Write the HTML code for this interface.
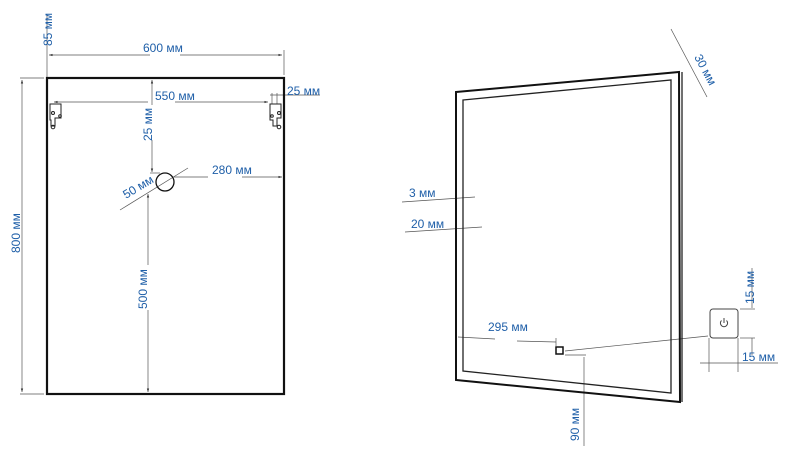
<!DOCTYPE html>
<html><head><meta charset="utf-8"><style>
html,body{margin:0;padding:0;background:#fff;width:800px;height:452px;overflow:hidden}
svg text{font-family:"Liberation Sans",Arial,sans-serif;font-size:12px;fill:#1f5fa8}
</style></head><body>
<svg width="800" height="452" viewBox="0 0 800 452" xmlns="http://www.w3.org/2000/svg">
<defs><marker id="a" viewBox="0 0 6 6" refX="6" refY="3" markerWidth="5" markerHeight="5" orient="auto-start-reverse"><path d="M0,1 L6,3 L0,5z" fill="#333"/></marker></defs>
<g stroke="#555" stroke-width="0.7" fill="none">
<line x1="47" y1="50" x2="47" y2="78"/><line x1="284" y1="50" x2="284" y2="75"/>
<line x1="49" y1="55" x2="150" y2="55" marker-start="url(#a)"/><line x1="180" y1="55" x2="282" y2="55" marker-end="url(#a)"/>
<line x1="47" y1="14" x2="47" y2="50"/>
<line x1="20" y1="78" x2="44" y2="78"/><line x1="20" y1="394" x2="44" y2="394"/>
<line x1="22" y1="80" x2="22" y2="392" marker-start="url(#a)" marker-end="url(#a)"/>
<line x1="54" y1="102" x2="148" y2="102" marker-start="url(#a)"/><line x1="175" y1="102" x2="268" y2="102" marker-end="url(#a)"/>
<line x1="270" y1="95" x2="320" y2="95"/><line x1="272" y1="93" x2="272" y2="104"/><line x1="277" y1="93" x2="277" y2="104"/>
<line x1="152" y1="80" x2="152" y2="105" marker-start="url(#a)"/><line x1="152" y1="140" x2="152" y2="172" marker-end="url(#a)"/><line x1="150" y1="173" x2="160" y2="173"/>
<line x1="174" y1="177" x2="208" y2="177"/><line x1="242" y1="177" x2="282" y2="177" marker-end="url(#a)"/>
<line x1="120" y1="210" x2="188" y2="168"/>
<line x1="148" y1="194" x2="148" y2="265" marker-start="url(#a)"/><line x1="148" y1="310" x2="148" y2="392" marker-end="url(#a)"/>
<line x1="671" y1="29" x2="707" y2="97"/>
<line x1="402" y1="202" x2="475" y2="197"/><line x1="405" y1="232" x2="482" y2="227"/>
<line x1="458" y1="337" x2="495" y2="339"/><line x1="517" y1="341" x2="556" y2="342"/><line x1="556" y1="338" x2="556" y2="346"/>
<line x1="565" y1="351" x2="708" y2="336"/>
<line x1="565" y1="355" x2="586" y2="355"/><line x1="584" y1="357" x2="584" y2="446"/>
<line x1="752" y1="268" x2="752" y2="308"/><line x1="740" y1="309" x2="755" y2="309"/>
<line x1="752" y1="338" x2="752" y2="355"/><line x1="740" y1="338" x2="755" y2="338"/>
<line x1="709" y1="338" x2="709" y2="372"/><line x1="738" y1="338" x2="738" y2="372"/>
<line x1="700" y1="363" x2="778" y2="363"/>
</g>
<rect x="47" y="78" width="237" height="316" fill="none" stroke="#111" stroke-width="2.2"/>
<circle cx="165" cy="182" r="9" fill="none" stroke="#111" stroke-width="1.3"/>
<g fill="none" stroke="#222" stroke-width="1">
<path d="M50,104 h11 v14 h-6 v8 h-4 v-6 h-1z"/><circle cx="53" cy="113" r="1.5"/><circle cx="53" cy="127" r="1.8"/><circle cx="60" cy="116" r="1.3"/>
<path d="M270,104 h11 v14 h-4 v8 h-4 v-6 h-3z"/><circle cx="279" cy="113" r="1.5"/><circle cx="279" cy="127" r="1.8"/><circle cx="272" cy="116" r="1.3"/>
</g>
<polygon points="456,92 679,72 680,402 456,380" fill="none" stroke="#111" stroke-width="2"/>
<line x1="682" y1="72" x2="682" y2="402" stroke="#111" stroke-width="1.2"/>
<polygon points="463,100 671,80 671,393 463,371" fill="none" stroke="#222" stroke-width="1.3"/>
<rect x="556" y="347" width="7" height="7" fill="#fff" stroke="#111" stroke-width="1.5"/>
<rect x="710" y="309" width="28" height="29" rx="3" fill="#fff" stroke="#444" stroke-width="1"/>
<path d="M721.5,320.5 a3.6,3.6 0 1 0 5,0" fill="none" stroke="#444" stroke-width="1"/><line x1="724" y1="318" x2="724" y2="323" stroke="#444" stroke-width="1"/>
<text x="143" y="52">600 мм</text>
<text transform="translate(52,46) rotate(-90)">85 мм</text>
<text transform="translate(20,253) rotate(-90)">800 мм</text>
<text x="155" y="100">550 мм</text>
<text x="287" y="95">25 мм</text>
<text transform="translate(152,141) rotate(-90)">25 мм</text>
<text x="212" y="174">280 мм</text>
<text transform="translate(126,199) rotate(-31)">50 мм</text>
<text transform="translate(147,309) rotate(-90)">500 мм</text>
<text transform="translate(694,57) rotate(62)">30 мм</text>
<text x="409" y="197">3 мм</text>
<text x="411" y="228">20 мм</text>
<text x="488" y="331">295 мм</text>
<text transform="translate(579,441) rotate(-90)">90 мм</text>
<text transform="translate(754,304) rotate(-90)">15 мм</text>
<text x="742" y="361">15 мм</text>
</svg>
</body></html>
